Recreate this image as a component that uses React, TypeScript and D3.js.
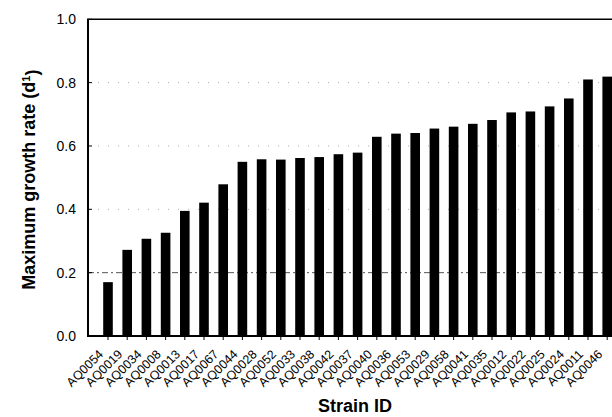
import React, { useEffect, useRef } from "react";
import * as d3 from "d3";

const strains = [
  "AQ0054", "AQ0019", "AQ0034", "AQ0008", "AQ0013", "AQ0017", "AQ0067",
  "AQ0044", "AQ0028", "AQ0052", "AQ0033", "AQ0038", "AQ0042", "AQ0037",
  "AQ0040", "AQ0036", "AQ0053", "AQ0029", "AQ0058", "AQ0041", "AQ0035",
  "AQ0012", "AQ0022", "AQ0025", "AQ0024", "AQ0011", "AQ0046",
];
const growthRates = [
  0.17, 0.272, 0.307, 0.326, 0.395, 0.421, 0.479, 0.55, 0.558, 0.557,
  0.562, 0.565, 0.574, 0.579, 0.629, 0.639, 0.641, 0.655, 0.661, 0.67,
  0.682, 0.706, 0.709, 0.725, 0.75, 0.81, 0.819,
];
const yTicks = [0, 0.2, 0.4, 0.6, 0.8, 1.0];
const dottedGrid = [0.4, 0.6, 0.8];

export default function App() {
  const ref = useRef<SVGSVGElement>(null);
  const width = 612;
  const height = 417;

  useEffect(() => {
    const svg = d3.select(ref.current);
    svg.selectAll("*").remove();

    const left = 88;
    const x = d3
      .scaleBand()
      .domain(strains)
      .range([98.4, 98.4 + 27 * 19.2])
      .paddingInner(0.5)
      .paddingOuter(0.25);
    const y = d3.scaleLinear().domain([0, 1]).range([336, 19.3]);

    // grid lines
    svg
      .selectAll(".dgrid")
      .data(dottedGrid)
      .enter()
      .append("line")
      .attr("x1", left)
      .attr("x2", width)
      .attr("y1", (d) => y(d))
      .attr("y2", (d) => y(d))
      .attr("stroke", "#aaa")
      .attr("stroke-width", 1)
      .attr("stroke-dasharray", "1 9");
    svg
      .append("line")
      .attr("x1", left)
      .attr("x2", width)
      .attr("y1", y(0.2))
      .attr("y2", y(0.2))
      .attr("stroke", "#555")
      .attr("stroke-width", 1)
      .attr("stroke-dasharray", "6 3 2 3");

    // bars
    svg
      .selectAll(".bar")
      .data(growthRates)
      .enter()
      .append("rect")
      .attr("x", (d, i) => x(strains[i]) as number)
      .attr("y", (d) => y(d))
      .attr("width", x.bandwidth())
      .attr("height", (d) => y(0) - y(d))
      .attr("fill", "#000");

    // axes frame
    svg
      .append("line")
      .attr("x1", left)
      .attr("x2", left)
      .attr("y1", y(1))
      .attr("y2", y(0))
      .attr("stroke", "#000")
      .attr("stroke-width", 2);
    svg
      .append("line")
      .attr("x1", left - 1)
      .attr("x2", width)
      .attr("y1", y(1))
      .attr("y2", y(1))
      .attr("stroke", "#000")
      .attr("stroke-width", 1.5);
    svg
      .append("line")
      .attr("x1", left - 1)
      .attr("x2", width)
      .attr("y1", y(0))
      .attr("y2", y(0))
      .attr("stroke", "#000")
      .attr("stroke-width", 2);

    // y ticks and labels
    svg
      .selectAll(".ytick")
      .data(yTicks)
      .enter()
      .append("line")
      .attr("x1", left)
      .attr("x2", left + 4)
      .attr("y1", (d) => y(d))
      .attr("y2", (d) => y(d))
      .attr("stroke", "#000");
    svg
      .selectAll(".ylab")
      .data(yTicks)
      .enter()
      .append("text")
      .attr("x", 76)
      .attr("y", (d) => y(d))
      .attr("dy", "0.36em")
      .attr("text-anchor", "end")
      .style("font-family", "Arial, 'Liberation Sans', sans-serif")
      .style("font-size", "14px")
      .text((d) => d.toFixed(1));

    // x ticks and labels
    svg
      .selectAll(".xtick")
      .data(strains)
      .enter()
      .append("line")
      .attr("x1", (d) => (x(d) as number) + x.bandwidth() / 2)
      .attr("x2", (d) => (x(d) as number) + x.bandwidth() / 2)
      .attr("y1", y(0))
      .attr("y2", y(0) + 4)
      .attr("stroke", "#000");
    svg
      .selectAll(".xlab")
      .data(strains)
      .enter()
      .append("text")
      .attr("transform", (d) => {
        const cx = (x(d) as number) + x.bandwidth() / 2;
        return `translate(${cx - 4},${355}) rotate(-45)`;
      })
      .attr("text-anchor", "end")
      .style("font-family", "Arial, 'Liberation Sans', sans-serif")
      .style("font-size", "12.5px")
      .text((d) => d);

    // axis titles
    svg
      .append("text")
      .attr("x", 355)
      .attr("y", 412)
      .attr("text-anchor", "middle")
      .style("font-family", "Arial, 'Liberation Sans', sans-serif")
      .style("font-size", "18px")
      .style("font-weight", "bold")
      .text("Strain ID");

    const yTitle = svg
      .append("text")
      .attr("transform", `translate(35,${(y(0) + y(1)) / 2 + 2}) rotate(-90)`)
      .attr("text-anchor", "middle")
      .style("font-family", "Arial, 'Liberation Sans', sans-serif")
      .style("font-size", "18px")
      .style("font-weight", "bold");
    yTitle.append("tspan").text("Maximum growth rate (d");
    yTitle
      .append("tspan")
      .attr("dy", "-0.45em")
      .style("font-size", "11px")
      .text("1");
    yTitle.append("tspan").attr("dy", "0.45em").text(")");
  }, []);

  return (
    <svg
      ref={ref}
      width={width}
      height={height}
      style={{ position: "absolute", left: 0, top: 0, background: "#fff" }}
    />
  );
}
